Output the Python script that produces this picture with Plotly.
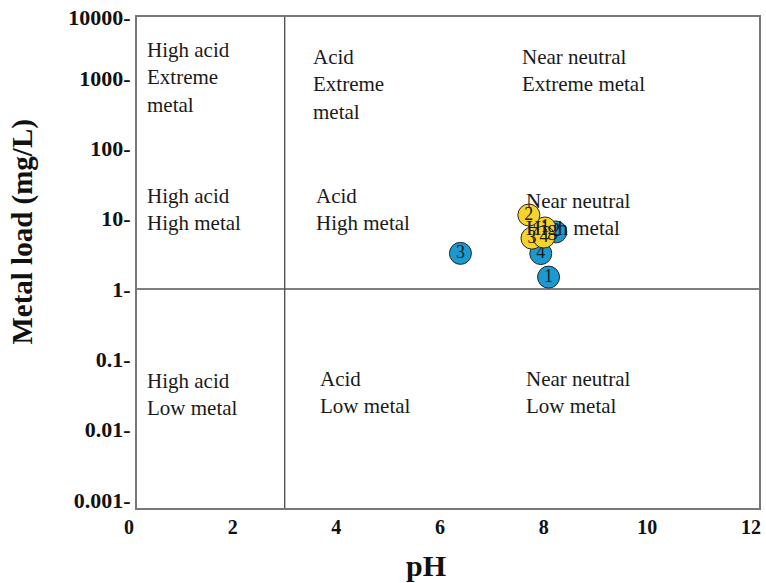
import plotly.graph_objects as go

# ---- data ----
blue_ids = ["1", "2", "3", "4"]
blue_ph = [7.94, 8.08, 6.24, 7.79]
blue_metal = [1.48, 6.5, 3.22, 3.2]

yellow_ids = ["1", "2", "3", "4"]
yellow_ph = [7.87, 7.56, 7.62, 7.85]
yellow_metal = [7.4, 11.3, 5.3, 5.5]

ph_boundary = 2.85
metal_boundary = 1

x_ticks = [0, 2, 4, 6, 8, 10, 12]
y_tick_vals = [0.001, 0.01, 0.1, 1, 10, 100, 1000, 10 ** 3.86]
y_tick_text = ["0.001-", "0.01-", "0.1-", "1-", "10-", "100-", "1000-", "10000-"]

zone_labels = [
    "High acid<br>Extreme<br>metal", "Acid<br>Extreme<br>metal", "Near neutral<br>Extreme metal",
    "High acid<br>High metal", "Acid<br>High metal", "Near neutral<br>High metal",
    "High acid<br>Low metal", "Acid<br>Low metal", "Near neutral<br>Low metal",
]
zone_x = [0.15, 3.35, 7.38, 0.15, 3.42, 7.46, 0.15, 3.5, 7.46]
zone_logy = [3.6, 3.5, 3.5, 1.52, 1.52, 1.45, -1.11, -1.08, -1.08]

SERIF = "Liberation Serif, Times New Roman, serif"

fig = go.Figure()
fig.add_trace(go.Scatter(
    x=blue_ph, y=blue_metal, text=blue_ids, mode="markers+text",
    textposition="middle center",
    textfont=dict(family=SERIF, size=18, color="#1a1a1a"),
    marker=dict(size=22, color="#1b9ad2", line=dict(color="#262626", width=1)),
    showlegend=False, cliponaxis=False,
))
fig.add_trace(go.Scatter(
    x=yellow_ph, y=yellow_metal, text=yellow_ids, mode="markers+text",
    textposition="middle center",
    textfont=dict(family=SERIF, size=18, color="#1a1a1a"),
    marker=dict(size=22, color="#f6d32a", line=dict(color="#262626", width=1)),
    showlegend=False, cliponaxis=False,
))

fig.add_shape(type="line", xref="x", yref="paper", x0=ph_boundary, x1=ph_boundary,
              y0=0, y1=1, line=dict(color="#3a3a3a", width=1.2), layer="below")
fig.add_shape(type="line", xref="paper", yref="y", x0=0, x1=1,
              y0=metal_boundary, y1=metal_boundary, line=dict(color="#555555", width=1.5), layer="below")

for t, x, ly in zip(zone_labels, zone_x, zone_logy):
    fig.add_annotation(text=t, x=x, y=ly, xref="x", yref="y", xanchor="left", yanchor="top",
                       showarrow=False, align="left",
                       font=dict(family=SERIF, size=21, color="#1a1a1a"))

# axis titles
fig.add_annotation(text="<b>pH</b>", x=0.465, y=-0.08, xref="paper", yref="paper",
                   xanchor="center", yanchor="top", showarrow=False,
                   font=dict(family=SERIF, size=30, color="#111111"))
fig.add_annotation(text="<b>Metal load (mg/L)</b>", x=-0.184, y=0.562, xref="paper", yref="paper",
                   xanchor="center", yanchor="middle", textangle=-90, showarrow=False,
                   font=dict(family=SERIF, size=29, color="#111111"))

fig.update_layout(
    width=766, height=583,
    margin=dict(l=137, r=5, t=17, b=75),
    paper_bgcolor="white", plot_bgcolor="white",
    font=dict(family=SERIF, color="#111111"),
)
fig.update_xaxes(
    range=[0, 12], tickvals=x_ticks, ticks="", showgrid=False, zeroline=False,
    showline=True, mirror=True, linecolor="#777777", linewidth=2,
    tickfont=dict(family=SERIF, size=20, color="#111111", weight="bold"),
    ticklabelshift=-8, ticklabelstandoff=0, ticklabeloverflow="allow",
)
fig.update_yaxes(
    type="log", range=[-3.114, 3.87], tickvals=y_tick_vals, ticktext=y_tick_text,
    ticks="", showgrid=False, zeroline=False,
    showline=True, mirror=True, linecolor="#777777", linewidth=2,
    tickfont=dict(family=SERIF, size=22, color="#111111", weight="bold"),
    ticklabelstandoff=0, ticklabeloverflow="allow",
)

fig.write_html(
    "out.html",
    config={"displayModeBar": False},
    post_script="document.body.style.margin='0';document.body.style.overflow='hidden';",
)
